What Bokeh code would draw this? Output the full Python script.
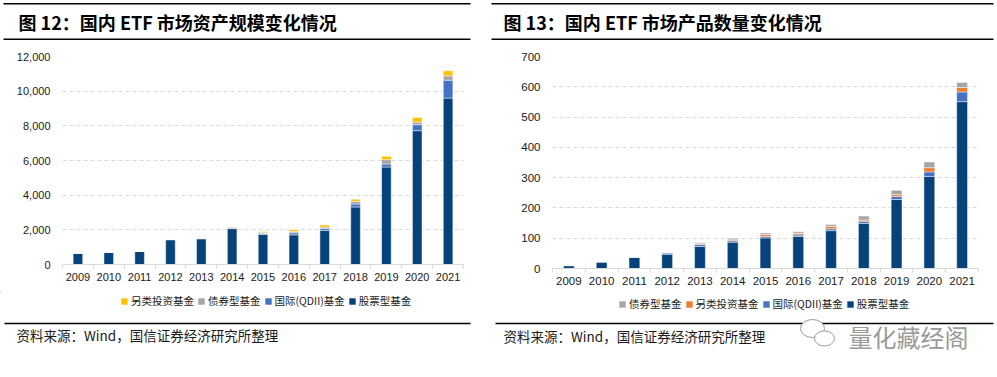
from bokeh.plotting import figure
from bokeh.models import (Range1d, FixedTicker, ColumnDataSource, Legend, LegendItem,
                          Label, NumeralTickFormatter)
from bokeh.layouts import row, column
from bokeh.embed import file_html
from bokeh.resources import INLINE

years = ["2009", "2010", "2011", "2012", "2013", "2014", "2015",
         "2016", "2017", "2018", "2019", "2020", "2021"]

# 图12 资产规模（亿元）
aum_stock = [650, 710, 750, 1430, 1480, 2070, 1730, 1710, 1970, 3320, 5625, 7720, 9600]
aum_qdii = [0, 0, 0, 10, 20, 20, 60, 120, 110, 170, 175, 345, 1035]
aum_bond = [0, 0, 0, 0, 10, 60, 70, 70, 80, 155, 250, 150, 250]
aum_alt = [0, 0, 0, 0, 0, 10, 40, 100, 120, 115, 190, 270, 290]

# 图13 产品数量（只）
cnt_stock = [9, 22, 37, 47, 73, 87, 101, 106, 125, 149, 228, 304, 551]
cnt_qdii = [2, 0, 1, 5, 6, 5, 5, 5, 6, 7, 10, 15, 32]
cnt_alt = [0, 0, 0, 0, 3, 3, 6, 5, 8, 4, 6, 14, 15]
cnt_bond = [0, 0, 0, 0, 3, 5, 5, 5, 6, 13, 14, 19, 16]

title_left = "图 12：国内 ETF 市场资产规模变化情况"
title_right = "图 13：国内 ETF 市场产品数量变化情况"
source_note = "资料来源：Wind，国信证券经济研究所整理"
watermark = "量化藏经阁"

name_stock = "股票型基金"
name_qdii = "国际(QDII)基金"
name_bond = "债券型基金"
name_alt = "另类投资基金"

C_STOCK = "#06437A"
C_QDII = "#4472C4"
C_BOND = "#A5A5A5"
C_ALT_Y = "#FFC000"
C_ALT_O = "#ED7D31"

CJK = "Noto Sans CJK SC"
LAT = "Liberation Sans"
W = 997
HEAD_H = 40
CHART_BOTTOM = 292
FOOT_H = 377 - CHART_BOTTOM


def deco_figure(h):
    p = figure(width=W, height=h, x_range=Range1d(0, W), y_range=Range1d(h, 0),
               x_axis_type=None, y_axis_type=None, min_border=0,
               output_backend="svg", toolbar_location=None, tools="")
    p.outline_line_color = None
    p.xgrid.visible = False
    p.ygrid.visible = False
    p.background_fill_color = "white"
    p.border_fill_color = "white"
    return p


def make_chart(fig_w, fleft, fwidth, ftop, fheight, ymax, ystep, keys, vals,
               colors, bar_w, tick_fs):
    fbottom = ftop + fheight
    p = figure(frame_width=fwidth, frame_height=fheight,
               min_border_left=fleft, min_border_right=fig_w - fleft - fwidth,
               min_border_top=ftop - HEAD_H, min_border_bottom=CHART_BOTTOM - fbottom,
               x_range=Range1d(-0.5, len(years) - 0.5), y_range=Range1d(0, ymax),
               output_backend="svg", toolbar_location=None, tools="")
    p.outline_line_color = None
    p.background_fill_color = "white"
    p.border_fill_color = "white"

    data = {"x": list(range(len(years)))}
    for k, v in zip(keys, vals):
        data[k] = v
    src = ColumnDataSource(data)
    p.vbar_stack(keys, x="x", width=bar_w, color=colors, source=src,
                 line_color="white", line_alpha=0.45, line_width=1)

    xa = p.xaxis[0]
    xa.ticker = FixedTicker(ticks=list(range(len(years))),
                            minor_ticks=[i - 0.5 for i in range(len(years) + 1)])
    xa.major_label_overrides = {i: y for i, y in enumerate(years)}
    xa.major_tick_out = 0
    xa.major_tick_in = 0
    xa.minor_tick_out = 4
    xa.minor_tick_in = 0
    xa.minor_tick_line_color = "#D9D9D9"
    xa.axis_line_color = "#D9D9D9"
    xa.axis_line_width = 1
    xa.major_label_standoff = 4
    xa.major_label_text_font = LAT
    xa.major_label_text_font_size = tick_fs
    xa.major_label_text_color = "#1a1a1a"

    ya = p.yaxis[0]
    ya.ticker = FixedTicker(ticks=list(range(0, ymax + 1, ystep)))
    ya.formatter = NumeralTickFormatter(format="0,0")
    ya.axis_line_color = None
    ya.major_tick_line_color = None
    ya.minor_tick_line_color = None
    ya.major_tick_out = 0
    ya.major_label_standoff = 12
    ya.major_label_text_font = LAT
    ya.major_label_text_font_size = tick_fs
    ya.major_label_text_color = "#1a1a1a"

    p.xgrid.grid_line_color = None
    p.ygrid.grid_line_color = "#D9D9D9"
    p.ygrid.grid_line_dash = "4 3"
    p.ygrid.grid_line_width = 1
    return p


left = make_chart(490, 62, 401, 55, 208, 12000, 2000,
                  ["stock", "qdii", "bond", "alt"], [aum_stock, aum_qdii, aum_bond, aum_alt],
                  [C_STOCK, C_QDII, C_BOND, C_ALT_Y], 0.31, "11px")
right = make_chart(507, 62, 426, 56, 212, 700, 100,
                   ["stock", "qdii", "alt", "bond"], [cnt_stock, cnt_qdii, cnt_alt, cnt_bond],
                   [C_STOCK, C_QDII, C_ALT_O, C_BOND], 0.33, "11.5px")

# ---- header: rules and titles ----
head = deco_figure(HEAD_H)
head.segment(x0=[3, 3, 491, 491], x1=[470, 470, 993, 993], y0=[3.3, 38.7, 3.3, 38.7],
             y1=[3.3, 38.7, 3.3, 38.7], line_color="black", line_width=1.4)
for tx, tt in ((18, title_left), (503, title_right)):
    head.add_layout(Label(x=tx, y=21, text=tt, text_font=CJK, text_font_size="18px",
                          text_font_style="bold", text_color="black",
                          text_baseline="middle", text_align="left"))

# ---- footer: legends, rules, source notes, watermark ----
foot = deco_figure(FOOT_H)


def add_legend(names, colors, x_left, y_center):
    items = []
    for nm, col in zip(names, colors):
        # off-canvas proxy glyph: only its legend swatch is shown
        r = foot.vbar(x=[-1000], top=[-1000], bottom=[-1001], width=1,
                      fill_color=col, line_color=None)
        items.append(LegendItem(label=nm, renderers=[r]))
    top_local = y_center - 6 - CHART_BOTTOM
    leg = Legend(items=items, orientation="horizontal",
                 location=(x_left, FOOT_H - (top_local + 12)),
                 glyph_width=8, glyph_height=8, label_standoff=3, spacing=3,
                 padding=0, margin=0, label_height=12,
                 label_text_font=CJK, label_text_font_size="10.5px",
                 label_text_color="#1a1a1a",
                 border_line_color=None, background_fill_alpha=0)
    foot.add_layout(leg, "center")


add_legend([name_alt, name_bond, name_qdii, name_stock],
           [C_ALT_Y, C_BOND, C_QDII, C_STOCK], 120, 302)
add_legend([name_bond, name_alt, name_qdii, name_stock],
           [C_BOND, C_ALT_O, C_QDII, C_STOCK], 618, 305)

yr = 323 - CHART_BOTTOM
foot.segment(x0=[4, 495], x1=[470, 993], y0=[yr, yr], y1=[yr, yr],
             line_color="black", line_width=1.4)
foot.add_layout(Label(x=16, y=334 - CHART_BOTTOM, text=source_note, text_font=CJK,
                      text_font_size="13.5px", text_color="#1a1a1a",
                      text_baseline="middle", text_align="left"))
foot.add_layout(Label(x=503, y=335 - CHART_BOTTOM, text=source_note, text_font=CJK,
                      text_font_size="13.5px", text_color="#1a1a1a",
                      text_baseline="middle", text_align="left"))
# WeChat-style bubble icon + watermark
foot.ellipse(x=[812, 824], y=[328 - CHART_BOTTOM, 338 - CHART_BOTTOM], width=[24, 20],
             height=[18, 15], fill_color="white", line_color="#9a9a9a", line_width=1)
foot.add_layout(Label(x=848, y=336 - CHART_BOTTOM, text=watermark, text_font=CJK,
                      text_font_size="24px", text_color="#9a9a9a",
                      text_baseline="middle", text_align="left"))

layout = column(head, row(left, right, spacing=0), foot, spacing=0)
open("out.html", "w").write(file_html(layout, INLINE))
